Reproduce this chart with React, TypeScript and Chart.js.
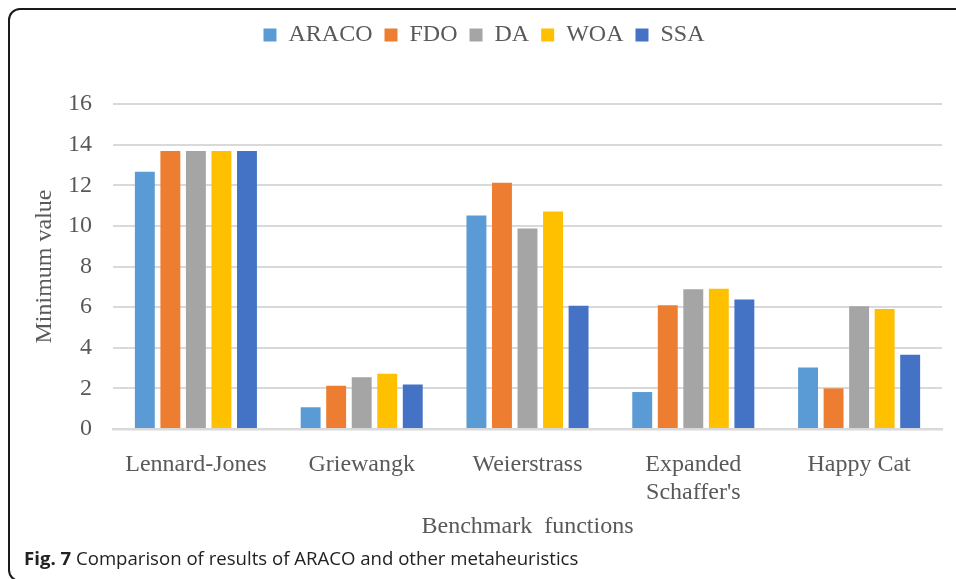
import React, { useEffect, useRef } from "react";
import { Chart, registerables } from "chart.js";

Chart.register(...registerables);

// Benchmark functions on the category axis
const categories: (string | string[])[] = [
  "Lennard-Jones",
  "Griewangk",
  "Weierstrass",
  ["Expanded", "Schaffer's"],
  "Happy Cat",
];

// Minimum value reached by each algorithm
const araco = [12.66, 1.07, 10.51, 1.82, 3.03];
const fdo = [13.69, 2.13, 12.12, 6.09, 2.0];
const da = [13.69, 2.55, 9.87, 6.88, 6.04];
const woa = [13.69, 2.72, 10.71, 6.91, 5.91];
const ssa = [13.69, 2.19, 6.07, 6.37, 3.65];

const seriesNames = ["ARACO", "FDO", "DA", "WOA", "SSA"];
const seriesColors = ["#5B9BD5", "#ED7D31", "#A5A5A5", "#FFC000", "#4472C4"];

const yMin = 0;
const yMax = 16;
const yStep = 2;

const SERIF = "'Liberation Serif', 'Times New Roman', serif";
const TEXT = "#595959";

// Adds room under the legend so the plot starts lower
const legendSpacer = {
  id: "legendSpacer",
  beforeInit(chart: any) {
    const legend = chart.legend;
    if (!legend) return;
    const origFit = legend.fit;
    legend.fit = function () {
      origFit.call(this);
      this.height += 47;
    };
  },
};

export default function App() {
  const canvasRef = useRef<HTMLCanvasElement | null>(null);

  useEffect(() => {
    const canvas = canvasRef.current;
    if (!canvas) return;
    const values = [araco, fdo, da, woa, ssa];
    const chart = new Chart(canvas, {
      type: "bar",
      data: {
        labels: categories,
        datasets: seriesNames.map((name, i) => ({
          label: name,
          data: values[i],
          backgroundColor: seriesColors[i],
          borderWidth: 0,
          categoryPercentage: 0.77,
          barPercentage: 0.78,
        })),
      },
      plugins: [legendSpacer],
      options: {
        animation: false,
        responsive: false,
        maintainAspectRatio: false,
        layout: { padding: { left: 26, right: 14, top: 11, bottom: 0 } },
        plugins: {
          tooltip: { enabled: false },
          legend: {
            position: "top",
            labels: {
              boxWidth: 13,
              boxHeight: 13,
              padding: 12,
              color: TEXT,
              font: { family: SERIF, size: 24 },
            },
          },
        },
        scales: {
          x: {
            grid: { display: false },
            border: { display: true, color: "#D9D9D9", width: 2.5 },
            ticks: {
              color: TEXT,
              padding: 14,
              maxRotation: 0,
              autoSkip: false,
              font: { family: SERIF, size: 24, lineHeight: 1.15 },
            },
            title: {
              display: true,
              text: "Benchmark  functions",
              color: TEXT,
              font: { family: SERIF, size: 24 },
              padding: { top: 4, bottom: 4 },
            },
            afterFit(scale: any) {
              scale.height = 116;
            },
          },
          y: {
            min: yMin,
            max: yMax,
            grid: { color: "#D9D9D9", lineWidth: 2, drawTicks: false },
            border: { display: false },
            ticks: {
              stepSize: yStep,
              color: TEXT,
              padding: 21,
              font: { family: SERIF, size: 24 },
            },
            title: {
              display: true,
              text: "Minimum value",
              color: TEXT,
              font: { family: SERIF, size: 24 },
              padding: { top: 4, bottom: 4 },
            },
            afterFit(scale: any) {
              scale.width = 87;
            },
          },
        },
      },
    });
    return () => chart.destroy();
  }, []);

  return (
    <div>
      <div
        style={{
          position: "fixed",
          left: 8,
          top: 8,
          width: 980,
          height: 570,
          border: "2px solid #1a1a1a",
          borderRadius: 12,
          boxSizing: "content-box",
        }}
      />
      <canvas
        ref={canvasRef}
        width={956}
        height={545}
        style={{ position: "fixed", left: 0, top: 0, width: 956, height: 545 }}
      />
      <div
        style={{
          position: "fixed",
          left: 24,
          top: 546,
          fontFamily: "'Open Sans', 'Noto Sans', sans-serif",
          fontSize: 18.6,
          lineHeight: "24px",
          color: "#222",
          whiteSpace: "nowrap",
        }}
      >
        <b>Fig. 7</b> Comparison of results of ARACO and other metaheuristics
      </div>
    </div>
  );
}
